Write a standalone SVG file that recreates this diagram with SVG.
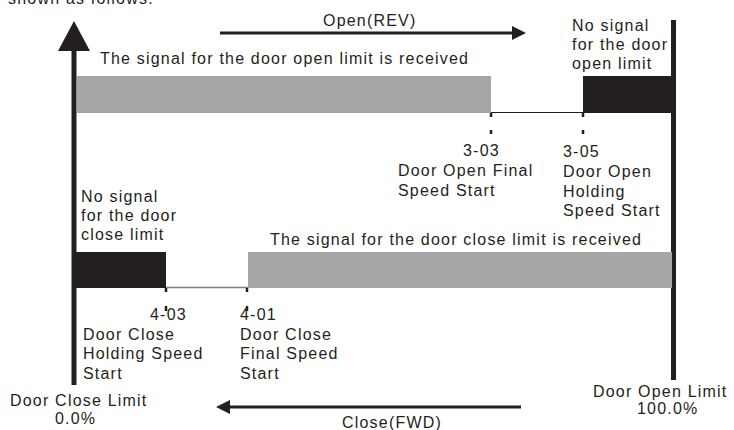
<svg xmlns="http://www.w3.org/2000/svg" width="734" height="430" viewBox="0 0 734 430">
<defs>
<style>
text{font-family:"Liberation Sans",Arial,sans-serif;font-size:16px;fill:#231f20;letter-spacing:1.2px}
.gray{fill:#a6a6a6}
.blk{fill:#231f20}
.axis{stroke:#231f20;stroke-width:5;fill:none}
.dir{stroke:#231f20;stroke-width:3;fill:none}
.tick{stroke:#231f20;stroke-width:2.5}
.thin{stroke:#231f20;stroke-width:1}
.thing{stroke:#7f7f7f;stroke-width:1.5}
</style>
</defs>
<rect width="734" height="430" fill="#fff"/>
<text x="8" y="4">shown as follows:</text>
<g id="connectors">
<line class="axis" x1="74" y1="48" x2="74" y2="385"/>
<polygon class="blk" points="74,21 58,51 90,51"/>
<line class="axis" x1="673.5" y1="20" x2="673.5" y2="380"/>
<line class="dir" x1="220" y1="33" x2="515" y2="33"/>
<polygon class="blk" points="526,33 512,26 512,40"/>
<line class="dir" x1="228" y1="407" x2="521" y2="407"/>
<polygon class="blk" points="216,407 230,400 230,414"/>
<line class="thin" x1="491" y1="112.5" x2="583" y2="112.5"/>
<line class="thing" x1="166" y1="287.5" x2="248" y2="287.5"/>
<line class="tick" x1="491" y1="113" x2="491" y2="117"/>
<line class="tick" x1="491" y1="130" x2="491" y2="134"/>
<line class="tick" x1="583" y1="113" x2="583" y2="117"/>
<line class="tick" x1="583" y1="130" x2="583" y2="134"/>
<line class="tick" x1="166" y1="288" x2="166" y2="292"/>
<line class="tick" x1="166" y1="306" x2="166" y2="311"/>
<line class="tick" x1="247" y1="288" x2="247" y2="292"/>
<line class="tick" x1="247" y1="306" x2="247" y2="311"/>
</g>
<g id="open-dir"><text x="323" y="26">Open(REV)</text></g>
<g id="close-dir"><text x="342" y="428">Close(FWD)</text></g>
<g id="open-signal">
<rect class="gray" x="77" y="76" width="414" height="37"/>
<text x="100" y="64">The signal for the door open limit is received</text>
</g>
<g id="open-nosignal">
<rect class="blk" x="583" y="76" width="89" height="37"/>
<text x="572" y="31">No signal</text>
<text x="572" y="50">for the door</text>
<text x="572" y="69">open limit</text>
</g>
<g id="p303">
<text x="463" y="156">3-03</text>
<text x="398" y="176">Door Open Final</text>
<text x="398" y="196">Speed Start</text>
</g>
<g id="p305">
<text x="563" y="157">3-05</text>
<text x="563" y="177">Door Open</text>
<text x="563" y="197">Holding</text>
<text x="563" y="216">Speed Start</text>
</g>
<g id="close-nosignal">
<rect class="blk" x="73" y="252" width="93" height="36"/>
<text x="81" y="202">No signal</text>
<text x="81" y="221">for the door</text>
<text x="81" y="240">close limit</text>
</g>
<g id="close-signal">
<rect class="gray" x="248" y="252" width="424" height="36"/>
<text x="270" y="245">The signal for the door close limit is received</text>
</g>
<g id="p403">
<text x="150" y="320">4-03</text>
<text x="83" y="340">Door Close</text>
<text x="83" y="359">Holding Speed</text>
<text x="83" y="379">Start</text>
</g>
<g id="p401">
<text x="240" y="320">4-01</text>
<text x="240" y="340">Door Close</text>
<text x="240" y="359">Final Speed</text>
<text x="240" y="379">Start</text>
</g>
<g id="close-limit">
<text x="10" y="406">Door Close Limit</text>
<text x="55" y="424">0.0%</text>
</g>
<g id="open-limit">
<text x="593" y="397">Door Open Limit</text>
<text x="637" y="414">100.0%</text>
</g>
</svg>
